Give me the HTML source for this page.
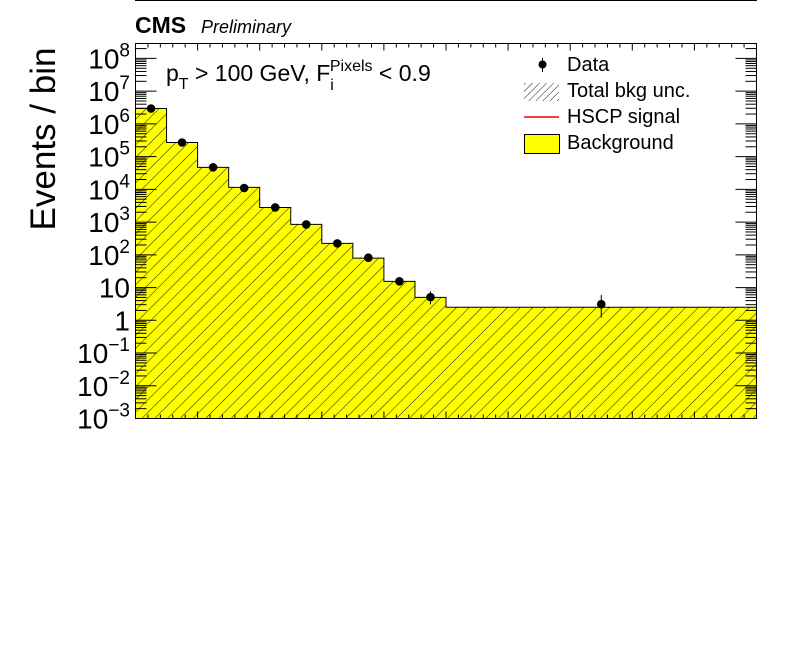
<!DOCTYPE html>
<html><head><meta charset="utf-8"><style>
html,body{margin:0;padding:0;background:#fff;}
svg{display:block;font-family:"Liberation Sans",Arial,sans-serif;}
</style></head><body>
<svg id="chart" width="796" height="672" viewBox="0 0 796 672">
<defs>
<pattern id="hatch" patternUnits="userSpaceOnUse" width="9" height="9" patternTransform="rotate(45)">
<line x1="0" y1="0" x2="0" y2="9" stroke="#000" stroke-width="0.9"/>
</pattern>
<pattern id="hatch2" patternUnits="userSpaceOnUse" width="5" height="5" patternTransform="rotate(45)">
<line x1="0" y1="0" x2="0" y2="5" stroke="#000" stroke-width="0.9"/>
</pattern>
</defs>
<line x1="135" y1="0.5" x2="757" y2="0.5" stroke="#000" stroke-width="1"/>
<text x="135" y="33" font-size="23" font-weight="bold">CMS</text>
<text x="201" y="33" font-size="18" font-style="italic">Preliminary</text>
<g id="bars"></g>
<g id="ticks"></g>
<g id="ylabels"></g>
<g id="points"></g>
<rect x="135.5" y="43.5" width="621" height="375" fill="none" stroke="#000" stroke-width="1"/>
<text transform="translate(55,139) rotate(-90)" text-anchor="middle" font-size="35">Events / bin</text>
<text x="166" y="81" font-size="23">p<tspan font-size="16" dy="8">T</tspan><tspan dy="-8"> &gt; 100 GeV, F</tspan><tspan font-size="16" dy="9">i</tspan><tspan font-size="16" dy="-19" dx="-4">Pixels</tspan><tspan dy="10"> &lt; 0.9</tspan></text>
<g>
<g>
<line x1="542.5" y1="58" x2="542.5" y2="72" stroke="#000" stroke-width="1"/>
<circle cx="542.5" cy="64.5" r="4" fill="#000"/>
<text x="567" y="71" font-size="20">Data</text></g>
<g>
<rect x="524" y="83" width="35" height="18" fill="url(#hatch2)"/>
<text x="567" y="97" font-size="20">Total bkg unc.</text></g>
<g>
<line x1="524" y1="117" x2="559" y2="117" stroke="#e00" stroke-width="1.5"/>
<text x="567" y="123" font-size="20">HSCP signal</text></g>
<g>
<rect x="524.5" y="134.5" width="35" height="19" fill="#ff0" stroke="#000" stroke-width="1"/>
<text x="567" y="149" font-size="20">Background</text></g>
</g>
</svg>
<script>
const binEdges=[0,1,2,3,4,5,6,7,8,9,10,20];
const bkgValues=[2.95e6,2.7e5,4.7e4,1.15e4,2.8e3,850,224,79,15.5,5.0,2.5];
const dataX=[0.5,1.5,2.5,3.5,4.5,5.5,6.5,7.5,8.5,9.5,15];
const dataValues=[2.95e6,2.7e5,4.7e4,1.1e4,2.8e3,850,224,82,15.5,5.1,3.1];
const dataErrLo=[0,0,0,0,0,0,0,0,0,2,1.9];
const dataErrHi=[0,0,0,0,0,0,0,0,0,2.6,2.9];
const yTickExp=[-3,-2,-1,0,1,2,3,4,5,6,7,8];
const yTickText=["10","10","10","1","10","10","10","10","10","10","10","10"];
const yTickSup=["−3","−2","−1","","","2","3","4","5","6","7","8"];
const X0=135.5,X1=756.5,Y0=418.5,Y1=43.5,XMIN=0,XMAX=20,LMIN=-3,LMAX=8.456;
const NS="http://www.w3.org/2000/svg";
function xs(v){return X0+(v-XMIN)/(XMAX-XMIN)*(X1-X0);}
function ys(v){return Y0-(Math.log10(v)-LMIN)/(LMAX-LMIN)*(Y0-Y1);}
function ysl(l){return Y0-(l-LMIN)/(LMAX-LMIN)*(Y0-Y1);}
function mk(t,a,p){const e=document.createElementNS(NS,t);for(const k in a)e.setAttribute(k,a[k]);p.appendChild(e);return e;}
const bars=document.getElementById('bars');
let d="M"+xs(binEdges[0])+","+Y0;
for(let i=0;i<bkgValues.length;i++){const y=Math.max(ys(bkgValues[i]),Y1);d+=" L"+xs(binEdges[i])+","+y+" L"+xs(binEdges[i+1])+","+y;}
d+=" L"+xs(binEdges[binEdges.length-1])+","+Y0+" Z";
const fill=mk('path',{d:d,fill:'#ff0',stroke:'none'},bars);


const hat=mk('path',{d:d,fill:'url(#hatch)',stroke:'#000','stroke-width':1},bars);


const tk=document.getElementById('ticks');
for(let v=0;v<=20.001;v+=0.4){const maj=Math.abs(v/2-Math.round(v/2))<1e-6;const L=maj?7:4;const x=xs(v);
mk('line',{x1:x,y1:Y0,x2:x,y2:Y0-L,stroke:'#000'},tk);mk('line',{x1:x,y1:Y1,x2:x,y2:Y1+L,stroke:'#000'},tk);}
for(let e=-3;e<=8;e++){for(let m=1;m<10;m++){const l=e+Math.log10(m);if(l>LMAX)break;const y=ysl(l);const L=m==1?21:11;
mk('line',{x1:X0,y1:y,x2:X0+L,y2:y,stroke:'#000'},tk);mk('line',{x1:X1,y1:y,x2:X1-L,y2:y,stroke:'#000'},tk);}}
const yl=document.getElementById('ylabels');
for(let i=0;i<yTickExp.length;i++){const y=ysl(yTickExp[i]);
const t=mk('text',{x:130,y:y+10,'font-size':28,'text-anchor':'end'},yl);


const a=document.createElementNS(NS,'tspan');a.textContent=yTickText[i];t.appendChild(a);
if(yTickSup[i]){const s=document.createElementNS(NS,'tspan');s.setAttribute('font-size','19');s.setAttribute('dy','-12');s.textContent=yTickSup[i];t.appendChild(s);}}
const pts=document.getElementById('points');
for(let i=0;i<dataValues.length;i++){const x=xs(dataX[i]),y=ys(dataValues[i]);
const g=mk('g',{},pts);


if(dataErrLo[i]>0||dataErrHi[i]>0){mk('line',{x1:x,y1:ys(dataValues[i]+dataErrHi[i]),x2:x,y2:ys(Math.max(dataValues[i]-dataErrLo[i],1e-3)),stroke:'#000','stroke-width':1},g);}
mk('circle',{cx:x,cy:y,r:4.3,fill:'#000'},g);}
</script>
</body></html>
